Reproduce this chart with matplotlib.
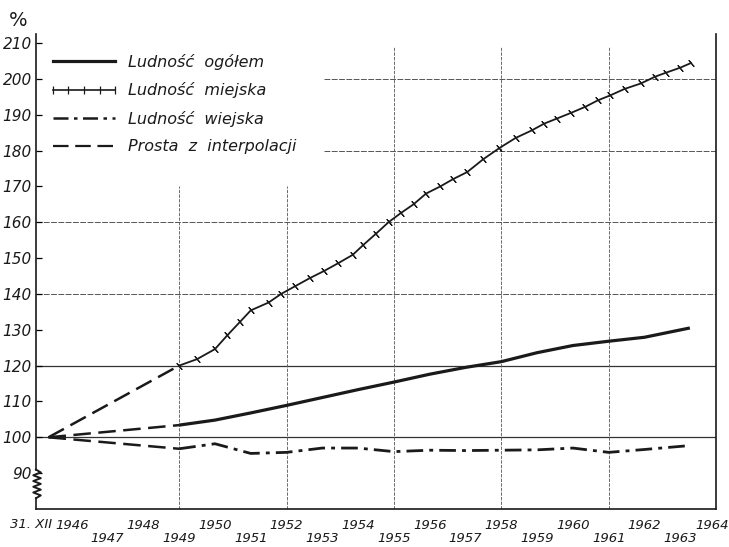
import numpy as np
import matplotlib
matplotlib.use('Agg')
import matplotlib.pyplot as plt
import matplotlib.transforms as mtransforms
from matplotlib.lines import Line2D

# Index 31.XII.1945 = 100
labels = ['Ludność  ogółem', 'Ludność  miejska', 'Ludność  wiejska', 'Prosta  z  interpolacji']

# interpolated start (straight dashed lines)
interp_x = [1945.35, 1949.0]
interp_total = [100.0, 103.4]
interp_urban = [100.0, 120.0]
interp_rural = [100.0, 96.8]

years = [1949, 1950, 1951, 1952, 1953, 1954, 1955, 1956, 1957, 1958, 1959,
         1960, 1961, 1962, 1963.27]
total = [103.4, 104.8, 106.8, 108.9, 111.1, 113.3, 115.4, 117.6, 119.5, 121.1,
         123.6, 125.6, 126.8, 127.9, 130.5]
rural = [96.8, 98.2, 95.5, 95.8, 97.0, 97.0, 96.0, 96.4, 96.3, 96.4, 96.5,
         97.0, 95.8, 96.6, 97.7]

urban_x = [1949.0, 1949.5, 1950.0, 1950.35, 1950.7, 1951.0, 1951.5, 1951.85,
           1952.25, 1952.65, 1953.05, 1953.45, 1953.85, 1954.15, 1954.5, 1954.85,
           1955.2, 1955.55, 1955.9, 1956.3, 1956.65, 1957.05, 1957.5, 1957.95,
           1958.4, 1958.85, 1959.2, 1959.55, 1959.95, 1960.35, 1960.7, 1961.05,
           1961.45, 1961.9, 1962.3, 1962.6, 1963.0, 1963.3]
urban = [120.0, 121.8, 124.6, 128.5, 132.2, 135.4, 137.6, 140.0,
         142.2, 144.4, 146.4, 148.6, 150.9, 153.7, 156.8, 160.0,
         162.6, 165.0, 168.0, 170.0, 172.0, 174.0, 177.6, 180.7,
         183.5, 185.6, 187.5, 188.9, 190.5, 192.2, 194.0, 195.4,
         197.2, 198.7, 200.6, 201.7, 203.1, 204.4]

y_ticks = list(range(90, 211, 10))
x_ticks = list(range(1946, 1965))

plt.rcParams['font.family'] = ['DejaVu Sans']
plt.rcParams['font.style'] = 'italic'
ink = '#1a1a1a'
grid_c = '#555555'
dash = (0, (7, 3))
dashdot = (0, (6, 2.2, 1.4, 2.2))

fig = plt.figure(figsize=(7.29, 5.47), dpi=100)
ax = fig.add_axes([36 / 729, 38 / 547, 680 / 729, 475 / 547])
ax.set_xlim(1945, 1964)
ax.set_ylim(80, 212.5)

# grid, drawn like the printed chart (partial lines)
ax.hlines([100, 120], 1945, 1964, color='#333333', lw=0.9, zorder=1)
ax.hlines([140, 160], 1945, 1964, color=grid_c, lw=0.7, ls=(0, (6, 1.5)), zorder=1)
ax.hlines([180, 200], 1953.05, 1964, color=grid_c, lw=0.7, ls=(0, (6, 1.5)), zorder=1)
ax.vlines([1949, 1952], 80, 170, color=grid_c, lw=0.6, ls=(0, (4, 1.5)), zorder=1)
ax.vlines([1955, 1958, 1961], 80, 209, color=grid_c, lw=0.6, ls=(0, (4, 1.5)), zorder=1)

# series
ax.plot(interp_x, interp_total, color=ink, lw=1.8, ls=dash, zorder=3)
ax.plot(interp_x, interp_urban, color=ink, lw=1.8, ls=dash, zorder=3)
ax.plot(interp_x, interp_rural, color=ink, lw=1.8, ls=dash, zorder=3)
ax.plot(years, total, color=ink, lw=2.3, solid_capstyle='butt', zorder=3)
ax.plot(urban_x, urban, color=ink, lw=1.3, marker=(2, 2, 40), ms=6, mew=0.8, zorder=3)
ax.plot(years, rural, color=ink, lw=2.0, ls=dashdot, zorder=3)

# spines
for s in ['left', 'bottom', 'right']:
    ax.spines[s].set_linewidth(1.2)
    ax.spines[s].set_color(ink)
ax.spines['top'].set_visible(False)
ax.spines['left'].set_bounds(91, 212.5)

# broken axis zigzag
trans = mtransforms.blended_transform_factory(ax.transAxes, ax.transData)
zig_y = np.linspace(91, 83.0, 11)
zig_x = np.array([0, 0.007, -0.004, 0.007, -0.004, 0.007, -0.004, 0.007, -0.004, 0.007, 0])
ax.plot(zig_x, zig_y, color=ink, lw=1.4, transform=trans, clip_on=False)
ax.plot([0, 0], [83.0, 80], color=ink, lw=1.2, transform=trans, clip_on=False)

# y ticks
ax.set_yticks(y_ticks)
ax.set_yticklabels([str(v) for v in y_ticks], fontsize=11, color=ink)
ax.tick_params(axis='y', direction='in', length=4, width=0.9, pad=3, right=False)

# x ticks: staggered labels, ticks on odd years
ax.set_xticks(x_ticks)
ax.set_xticklabels([str(y) if y % 2 == 0 else '\n' + str(y) for y in x_ticks],
                   fontsize=9.5, color=ink)
for lab in ax.get_xticklabels():
    lab.set_linespacing(1.0)
ax.tick_params(axis='x', which='major', length=0, pad=7)
last = ax.get_xticklabels()[-1]
last.set_transform(last.get_transform() +
                   mtransforms.ScaledTranslation(-3 / 72, 0, fig.dpi_scale_trans))
ax.set_xticks([y for y in x_ticks if y % 2 == 1] + [1964], minor=True)
ax.tick_params(axis='x', which='minor', direction='out', length=11, width=0.9,
               color=ink)

ax.text(1944.87, -0.018, '31. XII', transform=mtransforms.blended_transform_factory(
    ax.transData, ax.transAxes), ha='center', va='top', fontsize=9.5, color=ink)
fig.text(18 / 729, 1 - 20 / 547, '%', fontsize=14, ha='center', va='center',
         color=ink, style='normal')

handles = [
    Line2D([], [], color=ink, lw=2.3),
    Line2D([], [], color=ink, lw=1.2, marker='|', ms=6, mew=0.9),
    Line2D([], [], color=ink, lw=1.8, ls=dashdot),
    Line2D([], [], color=ink, lw=1.6, ls=dash),
]
leg = ax.legend(handles, labels, loc='upper left', frameon=False,
                bbox_to_anchor=(48 / 729, 1 - 54 / 547), bbox_transform=fig.transFigure,
                borderpad=0, borderaxespad=0, handlelength=4.5, handletextpad=0.5,
                labelspacing=0.78, numpoints=5, fontsize=11.5, labelcolor=ink)

fig.savefig('out.png', dpi=100, facecolor='white')
